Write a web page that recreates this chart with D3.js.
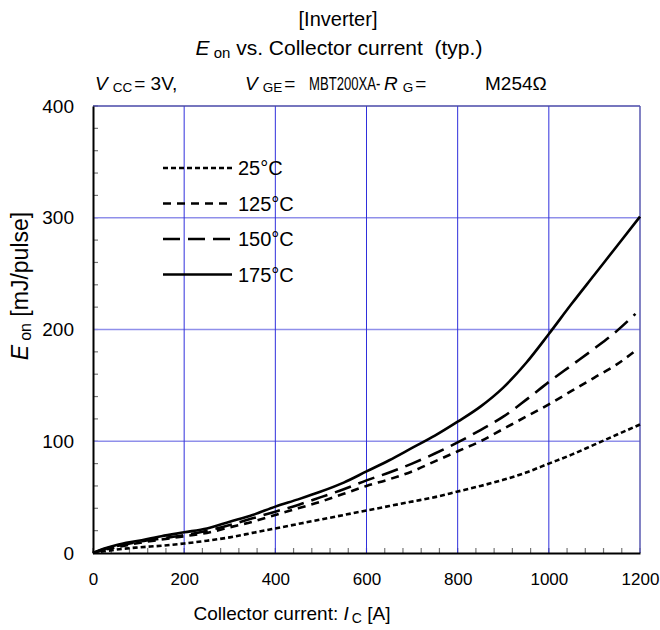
<!DOCTYPE html>
<html><head><meta charset="utf-8">
<script src="https://cdn.jsdelivr.net/npm/d3@7"></script>
<style>body{margin:0;background:#fff}svg{font-family:"Liberation Sans",Arial,sans-serif}text{white-space:pre}</style>
</head><body><svg id="c" width="660" height="630"></svg>
<script>
const currents = [0,25,50,100,150,200,250,300,350,400,450,500,550,600,650,700,750,800,850,900,950,1000,1050,1100,1150,1200];
const e25  = [0,1.5,3,5,6.5,8.5,11,14,18,22,26,30,34,38,42,46,50,55,60,65.5,72,80,88,97,106,115];
const e125 = [0,3,5,9,12,15,18,23,28,34,40,46,53,60,66,73,82,91,100,111,122,133,145,157,169,181];
const e150 = [0,3.5,6,10,13,16,20,25,31,37,43,50,57,65,72,80,89,99,110,122,137,153,168,183,199,214];
const e175 = [0,4,7,11,15,18.5,22,28,34,41.5,48,55,63,73,83,94,105,117.5,131,148,170,196,223,249,275,301];
const seriesNames = ["25°C","125°C","150°C","175°C"];
const seriesEnd = [1200,1190,1190,1200];
const xTicks = [0,200,400,600,800,1000,1200];
const yTicks = [0,100,200,300,400];

const svg = d3.select("#c");
const L=93,R=640,T=106,B=553;
const x = d3.scaleLinear().domain([0,1200]).range([L,R]);
const y = d3.scaleLinear().domain([0,400]).range([B,T]);

// minor ticks
svg.append("g").selectAll("line").data(d3.range(0,1201,40)).join("line")
  .attr("x1",d=>x(d)).attr("x2",d=>x(d)).attr("y1",B).attr("y2",B-5)
  .attr("stroke","#777").attr("stroke-width",1.2);
svg.append("g").selectAll("line").data(d3.range(0,401,20)).join("line")
  .attr("x1",L).attr("x2",L+5).attr("y1",d=>y(d)).attr("y2",d=>y(d))
  .attr("stroke","#777").attr("stroke-width",1.2);

// grid
svg.append("g").selectAll("line").data([100,200,300]).join("line")
  .attr("x1",L).attr("x2",R).attr("y1",d=>y(d)).attr("y2",d=>y(d))
  .attr("stroke","#8f8fea").attr("stroke-width",1.5);
svg.append("g").selectAll("line").data([200,400,600,800,1000]).join("line")
  .attr("x1",d=>x(d)).attr("x2",d=>x(d)).attr("y1",T).attr("y2",B)
  .attr("stroke","#2f2fdc").attr("stroke-width",1);
// borders
svg.append("line").attr("x1",L).attr("x2",R).attr("y1",T).attr("y2",T).attr("stroke","#4848a8").attr("stroke-width",1.5);
svg.append("line").attr("x1",R).attr("x2",R).attr("y1",T).attr("y2",B).attr("stroke","#5858b0").attr("stroke-width",1.5);

// axes
const xAxis = d3.axisBottom(x).tickValues(xTicks).tickFormat(d3.format("d")).tickSize(0).tickPadding(20);
const gx = svg.append("g").attr("transform",`translate(0,${B})`).call(xAxis);
gx.select(".domain").attr("stroke","#000").attr("stroke-width",2);
gx.selectAll("text").attr("font-size",17).attr("fill","#000").attr("font-family","Liberation Sans, Arial");
const yAxis = d3.axisLeft(y).tickValues(yTicks).tickSize(0).tickPadding(19);
const gy = svg.append("g").attr("transform",`translate(${L},0)`).call(yAxis);
gy.select(".domain").attr("stroke","#000").attr("stroke-width",2);
gy.selectAll("text").attr("font-size",19).attr("fill","#000").attr("font-family","Liberation Sans, Arial");

// curves
const dashes = ["5,3","8,6","17,8",null];
const data = [e25,e125,e150,e175];
const line = d3.line().x(d=>x(d[0])).y(d=>y(d[1])).curve(d3.curveMonotoneX);
data.forEach((s,i)=>{
  let pts = currents.map((c,j)=>[c,s[j]]);
  if (seriesEnd[i] < 1200) {
    pts = pts.slice(0,-1);
    pts.push([seriesEnd[i], s[s.length-1]]);
  }
  svg.append("path").datum(pts).attr("d",line).attr("fill","none")
    .attr("stroke","#000").attr("stroke-width",2.6)
    .attr("stroke-dasharray",dashes[i]);
});

// legend
const lg = svg.append("g");
seriesNames.forEach((n,i)=>{
  const yy = 168 + i*35.5;
  lg.append("line").attr("x1",163).attr("x2",232).attr("y1",yy).attr("y2",yy)
    .attr("stroke","#000").attr("stroke-width",2.6).attr("stroke-dasharray",dashes[i]);
  lg.append("text").attr("x",238).attr("y",yy+7).attr("font-size",20).text(n);
});

// titles
svg.append("text").attr("x",338).attr("y",26).attr("text-anchor","middle").attr("font-size",20).text("[Inverter]");
const t2 = svg.append("text").attr("x",339).attr("y",55).attr("text-anchor","middle").attr("font-size",21);
t2.append("tspan").attr("font-style","italic").text("E");
t2.append("tspan").attr("font-size",15).attr("dx",4).attr("dy",3).text("on");
t2.append("tspan").attr("dy",-3).text(" vs. Collector current  (typ.)");

function param(xx, main, s, rest){
  const t = svg.append("text").attr("x",xx).attr("y",90).attr("font-size",19);
  t.append("tspan").attr("font-style","italic").text(main);
  t.append("tspan").attr("font-size",13.5).attr("dx",5).attr("dy",2).text(s);
  t.append("tspan").attr("dy",-2).attr("dx",2).text(rest);
}
param(95,"V","CC","= 3V,");
param(245,"V","GE","=");
svg.append("text").attr("transform","translate(309,90) scale(0.69,1)").attr("font-size",19).text("MBT200XA-");
param(384,"R","G","=");
svg.append("text").attr("x",485).attr("y",90).attr("font-size",19).text("M254Ω");

// axis labels
const xl = svg.append("text").attr("x",292).attr("y",620).attr("text-anchor","middle").attr("font-size",19);
xl.append("tspan").text("Collector current: ");
xl.append("tspan").attr("font-style","italic").text("I");
xl.append("tspan").attr("font-size",14).attr("dx",3).attr("dy",3).text("C");
xl.append("tspan").attr("dy",-3).text(" [A]");

const yl = svg.append("text").attr("transform","translate(28,286) rotate(-90)").attr("text-anchor","middle").attr("font-size",23);
yl.append("tspan").attr("font-style","italic").text("E");
yl.append("tspan").attr("font-size",16).attr("dx",4).attr("dy",3).text("on");
yl.append("tspan").attr("dy",-3).text(" [mJ/pulse]");
</script></body></html>
